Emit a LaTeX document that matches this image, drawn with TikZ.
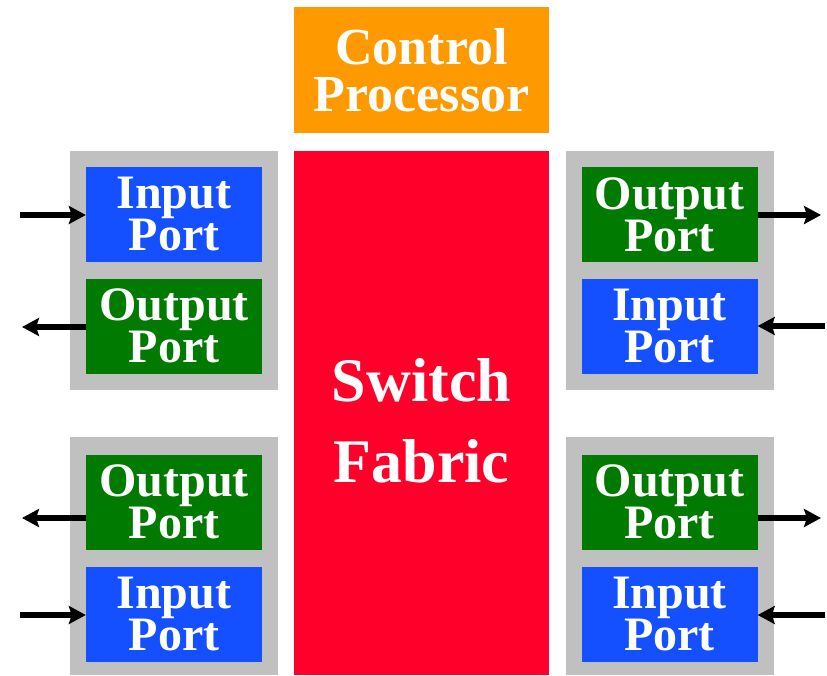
\documentclass[tikz,border=0pt]{standalone}
\usepackage{fontspec}
\setmainfont{Liberation Serif}
\usetikzlibrary{arrows.meta}

\definecolor{cporange}{RGB}{255,153,0}
\definecolor{fabricred}{RGB}{255,0,42}
\definecolor{inblue}{RGB}{20,80,255}
\definecolor{outgreen}{RGB}{0,122,0}
\definecolor{cardgray}{RGB}{192,192,192}

\tikzset{
    port/.style={minimum width=176pt, minimum height=95pt, inner sep=0pt, align=center,
        text=white, font=\bfseries\fontsize{48}{42}\selectfont},
    inport/.style={port, fill=inblue},
    outport/.style={port, fill=outgreen},
    card/.style={fill=cardgray, inner sep=0pt, minimum width=208pt},
    link/.style={line width=6pt, -{Stealth[length=17pt,width=18pt,inset=3pt]}}
}

\begin{document}
\begin{tikzpicture}[x=1pt,y=-1pt]
                        \useasboundingbox (0,0) rectangle (827,675);
                        % line cards
                        \foreach \x/\n in {174/L,669.5/R}
                        {
                            \node [card, minimum height=239pt] (\n top) at (\x,270.5) {};
                            \node [card, minimum height=238pt] (\n bot) at (\x,556) {};
                        }
                        \node [fill=cporange, minimum width=255pt, minimum height=126pt, inner sep=0pt, align=center,
                            text=white, font=\bfseries\fontsize{52}{47}\selectfont] (cp) at (421.5,70) {Control\\Processor};
                        \node [fill=fabricred, minimum width=255pt, minimum height=524pt, inner sep=0pt] (fabric) at (421.5,413) {};
                        \node [align=center, text=white, font=\bfseries\fontsize{62}{81}\selectfont] (fabrictext)
                            at (421.5,421) {Switch\\Fabric};
                        % ports
                        \node [inport] (in1) at (174,214.5) {Input\\Port};
                        \node [outport] (out1) at (174,326) {Output\\Port};
                        \node [outport] (out2) at (174,502) {Output\\Port};
                        \node [inport] (in2) at (174,614) {Input\\Port};
                        \node [outport] (out3) at (669.5,214.5) {Output\\Port};
                        \node [inport] (in3) at (669.5,326) {Input\\Port};
                        \node [outport] (out4) at (669.5,502) {Output\\Port};
                        \node [inport] (in4) at (669.5,614) {Input\\Port};
                        % links
                        \coordinate (a1) at (20,215);
                        \coordinate (a2) at (22,327);
                        \coordinate (a3) at (22,518);
                        \coordinate (a4) at (20,615);
                        \coordinate (b1) at (821,215);
                        \coordinate (b2) at (825,326);
                        \coordinate (b3) at (821,518);
                        \coordinate (b4) at (825,615);
                        \draw [link] (a1) -- (in1.west |- a1);
                        \draw [link] (out1.west |- a2) -- (a2);
                        \draw [link] (out2.west |- a3) -- (a3);
                        \draw [link] (a4) -- (in2.west |- a4);
                        \draw [link] (out3.east |- b1) -- (b1);
                        \draw [link] (b2) -- (in3.east |- b2);
                        \draw [link] (out4.east |- b3) -- (b3);
                        \draw [link] (b4) -- (in4.east |- b4);
\end{tikzpicture}
\end{document}
